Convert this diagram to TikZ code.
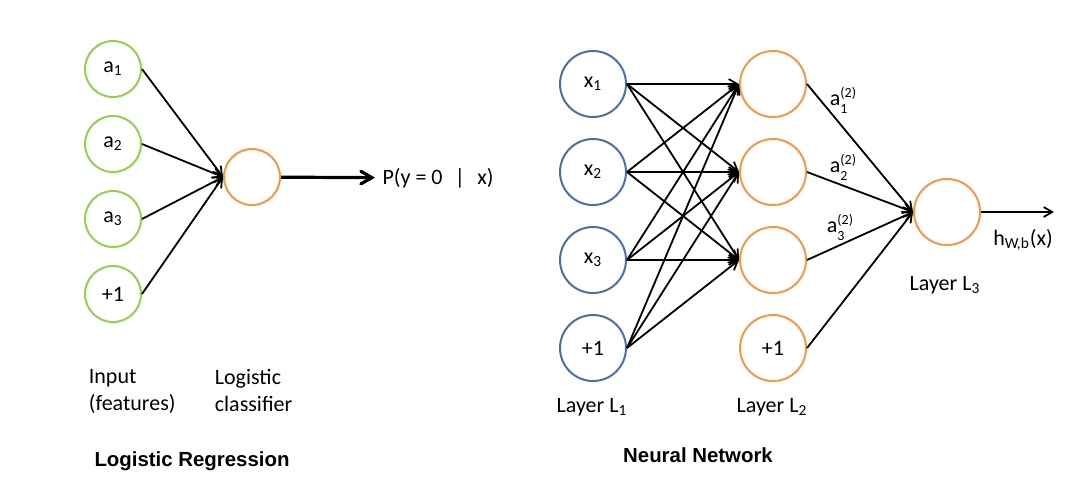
\documentclass[tikz,border=0pt]{standalone}
\usepackage{fontspec}
\setmainfont{Carlito}
\newfontfamily\headfont{Liberation Sans}
\usetikzlibrary{arrows,positioning}
\definecolor{featgreen}{HTML}{92D050}
\definecolor{inblue}{HTML}{4A6EA8}
\definecolor{unitorange}{HTML}{F79646}
\newcommand{\idx}[2]{#1\textsubscript{#2}}
\newcommand{\act}[3]{#1{\fontsize{7}{8}\selectfont
  \begin{tabular}[c]{@{}l@{}}#2\\#3\end{tabular}}}

\begin{document}
\begin{tikzpicture}[x=0.5pt,y=-0.5pt,>=angle 60,line width=0.9pt,
                    font=\fontsize{11}{13.5}\selectfont]
  \tikzstyle{neuron}=[circle,line width=1pt,inner sep=0pt,text=black]
  \tikzstyle{feature}=[neuron,draw=featgreen,minimum size=28pt]
  \tikzstyle{logit}=[neuron,draw=unitorange,minimum size=28pt]
  \tikzstyle{input}=[neuron,draw=inblue,minimum size=33pt]
  \tikzstyle{hidden}=[neuron,draw=unitorange,minimum size=33pt]
  \tikzstyle{caption}=[align=left,inner sep=0pt,anchor=north west]
  \tikzstyle{title}=[font=\headfont\bfseries\fontsize{10.2}{12}\selectfont]

  \useasboundingbox (0,0) rectangle (1074,500);

  % logistic regression
  \begin{scope}[node distance=37.5pt]
    \node[feature] (a1) at (113,69)     {\idx{a}{1}};
    \node[feature] (a2) [below of=a1]   {\idx{a}{2}};
    \node[feature] (a3) [below of=a2]   {\idx{a}{3}};
    \node[feature] (a0) [below of=a3]   {+1};
  \end{scope}
  \node[logit] (lr) at (252,177) {};
  \node[anchor=west] (py) at (375,178) {P(y = 0 \,\,|\,\, x)};

  \foreach \a in {a1,a2,a3,a0}
    \draw[->] (\a.east) -- (lr.west);
  \draw[->,line width=1.6pt] (lr) -- (py);

  \node[caption] (inp) at (88,368)  {Input\\(features)};
  \node[caption] (cls) at (214,368) {Logistic\\classifier};
  \node[title]   (lrt) at (192,461) {Logistic Regression};

  % neural network
  \begin{scope}[node distance=44pt]
    \node[input]  (x1) at (593,84)     {\idx{x}{1}};
    \node[input]  (x2) [below of=x1]   {\idx{x}{2}};
    \node[input]  (x3) [below of=x2]   {\idx{x}{3}};
    \node[input]  (b1) [below of=x3]   {+1};
    \node[hidden] (h1) at (773,84)     {};
    \node[hidden] (h2) [below of=h1]   {};
    \node[hidden] (h3) [below of=h2]   {};
    \node[hidden] (b2) [below of=h3]   {+1};
  \end{scope}
  \node[hidden] (out) at (947,212) {};
  \coordinate (hx) at (1054,212);

  \foreach \i in {x1,x2,x3,b1}
    \foreach \j in {h1,h2,h3}
      \draw[->] (\i.east) -- (\j.west);
  \foreach \j in {h1,h2,h3,b2}
    \draw[->] (\j.east) -- (out.west);
  \draw[->] (out) -- (hx);

  \node (z1) at (843,102) {\act{a}{(2)}{1}};
  \node (z2) at (843,169) {\act{a}{(2)}{2}};
  \node (z3) at (840,229) {\act{a}{(2)}{3}};
  \node (hwb) at (1023,240) {h\textsubscript{W,b}(x)};

  \node (l1) at (592,407) {Layer \idx{L}{1}};
  \node (l2) at (772,407) {Layer \idx{L}{2}};
  \node (l3) at (945,285) {Layer \idx{L}{3}};
  \node[title] (nnt) at (698,455) {Neural Network};
\end{tikzpicture}
\end{document}
